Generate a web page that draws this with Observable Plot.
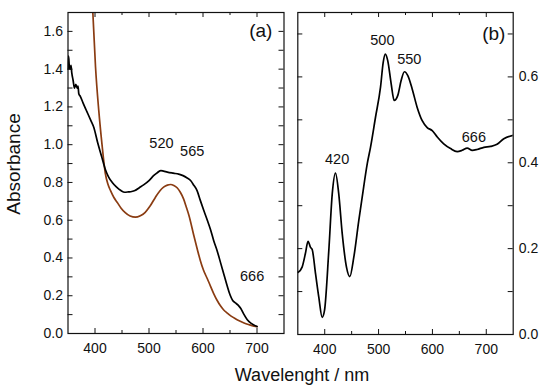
<!DOCTYPE html>
<html>
<head>
<meta charset="utf-8">
<script src="https://cdn.jsdelivr.net/npm/d3@7"></script>
<script src="https://cdn.jsdelivr.net/npm/@observablehq/plot@0.6"></script>
<style>
  html, body { margin: 0; padding: 0; background: #fff; }
  #wrap { position: relative; width: 550px; height: 389px; font-family: 'Liberation Sans', Arial, sans-serif; color: #111; }
  #wrap > div.p { position: absolute; top: 0; }
  .lab { position: absolute; white-space: nowrap; font-size: 18px; line-height: 1; }
</style>
</head>
<body>
<div id="wrap">
  <div class="p" id="pa" style="left:0"></div>
  <div class="p" id="pb" style="left:290px"></div>
  <div class="lab" id="ylab" style="left:13px; top:164px; transform: translate(-50%,-50%) rotate(-90deg); font-size:19px;">Absorbance</div>
  <div class="lab" id="xlab" style="left:302px; top:375px; transform: translate(-50%,-50%);">Wavelenght / nm</div>
</div>
<script>
// ---------- Panel (a) data ----------
const aBlackWl  = [350,351,352.5,354,355.5,357,359.5,362,364.5,367,368.5,370,373,378,385,392,398,405,412,419,425,432,440,448,455,462,468,474,482,490,500,509,516,522,527,534,545,555,563,570,577,583,589,595,601,608,614,620,626,633,639,645,650,655,660,665,670,675,682,690,700];
const aBlackAbs = [1.40,1.47,1.41,1.40,1.42,1.38,1.34,1.30,1.32,1.30,1.31,1.27,1.255,1.22,1.175,1.13,1.09,1.01,0.94,0.87,0.83,0.80,0.775,0.757,0.748,0.75,0.752,0.757,0.772,0.787,0.81,0.837,0.853,0.863,0.86,0.855,0.849,0.844,0.836,0.825,0.81,0.785,0.757,0.705,0.655,0.6,0.55,0.49,0.44,0.37,0.31,0.25,0.205,0.175,0.162,0.15,0.132,0.105,0.073,0.052,0.037];

const aBrownWl  = [394,396,401,407,413,419,424,429,435,441,448,456,465,475,484,493,502,512,520,527,534,540,546,552,558,564,569,574,583,590,595,601,608,614,620,626,632,638,645,652,660,668,676,684,691,700];
const aBrownAbs = [1.80,1.70,1.41,1.18,1.0,0.85,0.79,0.755,0.72,0.695,0.665,0.64,0.622,0.616,0.624,0.642,0.675,0.722,0.755,0.775,0.786,0.789,0.784,0.772,0.748,0.713,0.67,0.625,0.519,0.44,0.387,0.335,0.29,0.25,0.21,0.176,0.148,0.126,0.108,0.092,0.078,0.066,0.056,0.048,0.042,0.036];

const aLabels = ["520","565","666"];
const aLabelWl = [523,580,691];
const aLabelAbs = [1.008,0.964,0.302];

// ---------- Panel (b) data ----------
const bWl  = [350.7,358,364,369,373.6,376.7,383,389,395.3,399.6,407.6,414,420,426,432.5,440.4,446.6,454,463.3,469.6,479,485,494.3,503.6,508.6,512.5,517,523.4,529,535.7,542,548,554.3,562.4,571.7,581,590.3,599.6,609,621,633.6,646,655.3,664.6,674,683,695.5,708,720,732.6,750];
const bAbs = [0.145,0.157,0.188,0.217,0.203,0.198,0.141,0.087,0.04,0.056,0.196,0.328,0.376,0.328,0.235,0.157,0.135,0.18,0.266,0.32,0.398,0.436,0.506,0.576,0.634,0.653,0.638,0.584,0.545,0.557,0.592,0.612,0.603,0.572,0.529,0.498,0.482,0.475,0.46,0.444,0.433,0.426,0.429,0.434,0.429,0.431,0.436,0.438,0.443,0.456,0.464];

const bLabels = ["420","500","550","666"];
const bLabelWl = [423,507,557,677];
const bLabelAbs = [0.408,0.685,0.641,0.46];

// ---------- Axis ticks ----------
const xMajor = [400,500,600,700];
const xMinor = [450,550,650];
const aYMajor = [0.2,0.4,0.6,0.8,1.0,1.2,1.4,1.6];
const aYLabels = [0.0,0.2,0.4,0.6,0.8,1.0,1.2,1.4,1.6];
const aYMinor = [0.1,0.3,0.5,0.7,0.9,1.1,1.3,1.5];
const bYMajor = [0.2,0.4,0.6];
const bYLabels = [0.0,0.2,0.4,0.6];
const bYMinor = [0.1,0.3,0.5,0.7];

const zip = (xs, ys) => xs.map((x, i) => ({x, y: ys[i]}));
const font = "'Liberation Sans', Arial, sans-serif";
const ink = "#111";

function frameTicks(innerW, innerH, yMajor, yMinor) {
  const L = 5, Ls = 3;
  return [
    Plot.tickX(xMajor, {x: d => d, insetTop: innerH - L, stroke: ink}),
    Plot.tickX(xMinor, {x: d => d, insetTop: innerH - Ls, stroke: ink}),
    Plot.tickX(xMajor, {x: d => d, insetBottom: innerH - L, stroke: ink}),
    Plot.tickX(xMinor, {x: d => d, insetBottom: innerH - Ls, stroke: ink}),
    Plot.tickY(yMajor.concat(yMinor), {y: d => d, insetRight: innerW - L, stroke: ink}),
    Plot.tickY(yMajor.concat(yMinor), {y: d => d, insetLeft: innerW - L, stroke: ink})
  ];
}

// Panel (a)
{
  const W = 290, H = 360, mL = 67.5, mR = 6.5, mT = 12, mB = 27;
  const iW = W - mL - mR, iH = H - mT - mB;
  const p = Plot.plot({
    width: W, height: H, marginLeft: mL, marginRight: mR, marginTop: mT, marginBottom: mB,
    x: {domain: [350, 750]},
    y: {domain: [0, 1.7]},
    style: {fontFamily: font, fontSize: "14px", color: ink, background: "transparent", overflow: "visible"},
    marks: [
      Plot.line(zip(aBrownWl, aBrownAbs), {x: "x", y: "y", stroke: "#8a3c12", strokeWidth: 1.7, curve: "monotone-x", clip: true}),
      Plot.line(zip(aBlackWl, aBlackAbs), {x: "x", y: "y", stroke: "#000", strokeWidth: 1.7, curve: "monotone-x", clip: true}),
      ...frameTicks(iW, iH, aYMajor, aYMinor),
      Plot.frame({stroke: ink, strokeWidth: 1.2}),
      Plot.axisX({ticks: xMajor, tickSize: 0, tickPadding: 10, label: null, fontSize: 14}),
      Plot.axisY({ticks: aYLabels, tickSize: 0, tickPadding: 5, tickFormat: d3.format(".1f"), label: null, fontSize: 14}),
      Plot.text(aLabels, {x: (d, i) => aLabelWl[i], y: (d, i) => aLabelAbs[i], text: d => d, fontSize: 14.5, fill: ink}),
      Plot.text(["(a)"], {x: 707, y: 1.605, text: d => d, fontSize: 19, fill: ink})
    ]
  });
  document.getElementById("pa").append(p);
}

// Panel (b)
{
  const W = 260, H = 360, mL = 7.3, mR = 37.3, mT = 12, mB = 26;
  const iW = W - mL - mR, iH = H - mT - mB;
  const p = Plot.plot({
    width: W, height: H, marginLeft: mL, marginRight: mR, marginTop: mT, marginBottom: mB,
    x: {domain: [350, 750]},
    y: {domain: [0, 0.75]},
    style: {fontFamily: font, fontSize: "14px", color: ink, background: "transparent", overflow: "visible"},
    marks: [
      Plot.line(zip(bWl, bAbs), {x: "x", y: "y", stroke: "#000", strokeWidth: 1.7, curve: "monotone-x", clip: true}),
      ...frameTicks(iW, iH, bYMajor, bYMinor),
      Plot.frame({stroke: ink, strokeWidth: 1.2}),
      Plot.axisX({ticks: xMajor, tickSize: 0, tickPadding: 10, label: null, fontSize: 14}),
      Plot.axisY({anchor: "right", ticks: bYLabels, tickSize: 0, tickPadding: 5.5, tickFormat: d3.format(".1f"), label: null, fontSize: 14}),
      Plot.text(bLabels, {x: (d, i) => bLabelWl[i], y: (d, i) => bLabelAbs[i], text: d => d, fontSize: 14.5, fill: ink}),
      Plot.text(["(b)"], {x: 714, y: 0.699, text: d => d, fontSize: 19, fill: ink})
    ]
  });
  document.getElementById("pb").append(p);
}
</script>
</body>
</html>
